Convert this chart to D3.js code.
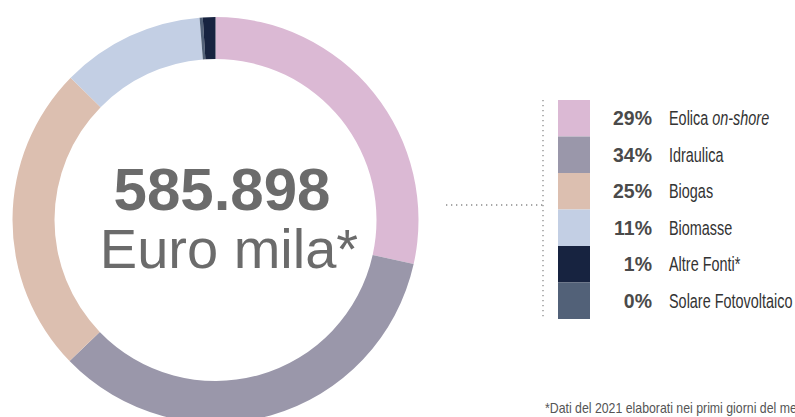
<!DOCTYPE html>
<html>
<head>
<meta charset="utf-8">
<script src="https://cdn.jsdelivr.net/npm/d3@7"></script>
<style>
  html, body { margin: 0; padding: 0; background: #ffffff; }
  svg { display: block; }
  text { font-family: "Liberation Sans", Arial, sans-serif; }
</style>
</head>
<body>
<svg id="chart" width="795" height="417"></svg>
<script>
// ---- data ----
const categories = ["Eolica on-shore", "Idraulica", "Biogas", "Biomasse", "Altre Fonti*", "Solare Fotovoltaico"];
const shares = [28.5, 34.3, 24.6, 11.4, 1.0, 0.25];
const percentLabels = ["29%", "34%", "25%", "11%", "1%", "0%"];
const colors = ["#dbb9d4", "#9a97aa", "#dcbfb0", "#c3cfe4", "#172340", "#526178"];
const pieOrder = ["Eolica on-shore", "Idraulica", "Biogas", "Biomasse", "Solare Fotovoltaico", "Altre Fonti*"];
const totalLabel = "585.898";
const unitLabel = "Euro mila*";
const noteText = "*Dati del 2021 elaborati nei primi giorni del mese";

const svg = d3.select("#chart");

// ---- donut ----
const cx = 215.5, cy = 220, outerR = 203, innerR = 161;
const color = d3.scaleOrdinal().domain(categories).range(colors);
const pieData = pieOrder.map(c => ({ cat: c, value: shares[categories.indexOf(c)] }));
const pie = d3.pie().sort(null).value(d => d.value).startAngle(0).endAngle(2 * Math.PI);
const arc = d3.arc().innerRadius(innerR).outerRadius(outerR);

const g = svg.append("g").attr("transform", `translate(${cx},${cy})`);
g.selectAll("path").data(pie(pieData)).join("path")
  .attr("d", arc)
  .attr("fill", d => color(d.data.cat));

// ---- center text ----
svg.append("text")
  .attr("x", 222).attr("y", 210)
  .attr("text-anchor", "middle")
  .attr("font-weight", "bold")
  .attr("font-size", 60)
  .attr("fill", "#6b6b6b")
  .text(totalLabel);

svg.append("text")
  .attr("x", 229).attr("y", 268)
  .attr("text-anchor", "middle")
  .attr("font-size", 56)
  .attr("fill", "#6b6b6b")
  .text(unitLabel);

// ---- legend ----
const legTop = 100, legBottom = 319;
const y = d3.scaleBand().domain(categories).range([legTop, legBottom]).padding(0);
const boxX = 558, boxW = 32;

// dotted connector
svg.append("line")
  .attr("x1", 543).attr("x2", 543).attr("y1", legTop).attr("y2", legBottom)
  .attr("stroke", "#8a8a8a").attr("stroke-width", 1.3)
  .attr("stroke-dasharray", "1.3,3.7");
svg.append("line")
  .attr("x1", 446).attr("x2", 543).attr("y1", 205).attr("y2", 205)
  .attr("stroke", "#8a8a8a").attr("stroke-width", 1.3)
  .attr("stroke-dasharray", "1.3,3.7");

const leg = svg.append("g");
leg.selectAll("rect").data(categories).join("rect")
  .attr("x", boxX).attr("y", d => y(d))
  .attr("width", boxW).attr("height", y.bandwidth())
  .attr("fill", d => color(d));

leg.selectAll("text.pct").data(categories).join("text")
  .attr("class", "pct")
  .attr("transform", d => `translate(652,${y(d) + y.bandwidth() / 2 + 7}) scale(0.95,1)`)
  .attr("text-anchor", "end")
  .attr("font-weight", "bold")
  .attr("font-size", 20.5)
  .attr("fill", "#4a4a4a")
  .text((d, i) => percentLabels[i]);

const lbl = leg.selectAll("text.lbl").data(categories).join("text")
  .attr("class", "lbl")
  .attr("transform", d => `translate(669,${y(d) + y.bandwidth() / 2 + 7}) scale(0.74,1)`)
  .attr("font-size", 19.5)
  .attr("fill", "#333333");
lbl.each(function(d) {
  const t = d3.select(this);
  if (d === "Eolica on-shore") {
    t.append("tspan").text("Eolica ");
    t.append("tspan").attr("font-style", "italic").text("on-shore");
  } else {
    t.text(d);
  }
});

// ---- note ----
svg.append("text")
  .attr("transform", "translate(545,413) scale(0.88,1)")
  .attr("font-size", 14)
  .attr("fill", "#555555")
  .text(noteText);
</script>
</body>
</html>
